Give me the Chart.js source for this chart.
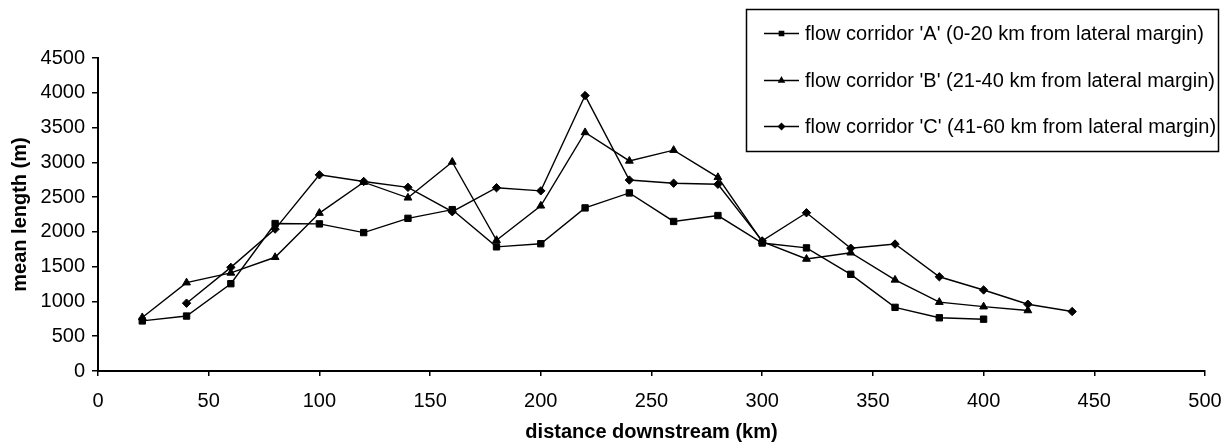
<!DOCTYPE html>
<html>
<head>
<meta charset="utf-8">
<script src="https://cdn.jsdelivr.net/npm/chart.js@4.4.1/dist/chart.umd.min.js"></script>
<style>
  html, body { margin: 0; padding: 0; background: #fff; }
  #wrap { width: 1221px; height: 442px; position: relative; }
</style>
</head>
<body>
<div id="wrap"><canvas id="c" width="1221" height="442"></canvas></div>
<script>
// distance downstream (km)
const distances = [20, 40, 60, 80, 100, 120, 140, 160, 180, 200, 220, 240, 260, 280, 300, 320, 340, 360, 380, 400, 420, 440];
// mean length (m), null where no data
const corridorA = [720, 790, 1255, 2120, 2115, 1990, 2195, 2320, 1785, 1830, 2345, 2560, 2150, 2235, 1840, 1770, 1390, 915, 765, 745, null, null];
const corridorB = [770, 1270, 1410, 1635, 2270, 2715, 2490, 3005, 1880, 2375, 3430, 3020, 3175, 2785, 1860, 1610, 1700, 1310, 990, 925, 870, null];
const corridorC = [null, 975, 1490, 2040, 2820, 2725, 2640, 2290, 2635, 2590, 3960, 2745, 2700, 2685, 1870, 2275, 1765, 1825, 1355, 1165, 960, 855];
const seriesLabels = [
  "flow corridor 'A' (0-20 km from lateral margin)",
  "flow corridor 'B' (21-40 km from lateral margin)",
  "flow corridor 'C' (41-60 km from lateral margin)"
];
const xTitle = 'distance downstream (km)';
const yTitle = 'mean length (m)';

function toPoints(vals) {
  const pts = [];
  vals.forEach((v, i) => { if (v !== null) pts.push({x: distances[i], y: v}); });
  return pts;
}

const styles = [
  {pointStyle: 'rect', pointRadius: 4.5},
  {pointStyle: 'triangle', pointRadius: 4.5},
  {pointStyle: 'rectRot', pointRadius: 4.2}
];
const seriesData = [corridorA, corridorB, corridorC];
const FONT = '"Liberation Sans", Arial, sans-serif';

const datasets = seriesData.map((vals, i) => ({
  label: seriesLabels[i],
  data: toPoints(vals),
  borderColor: '#000',
  backgroundColor: '#000',
  borderWidth: 1.4,
  pointStyle: styles[i].pointStyle,
  pointRadius: styles[i].pointRadius,
  pointBorderWidth: 1,
  pointBackgroundColor: '#000',
  pointBorderColor: '#000',
  tension: 0,
  fill: false
}));

const boxedLegend = {
  id: 'boxedLegend',
  afterDraw(chart) {
    const ctx = chart.ctx;
    ctx.save();
    ctx.lineWidth = 1.5;
    ctx.strokeStyle = '#000';
    ctx.strokeRect(746.5, 9.5, 472, 142);
    const rows = [33.5, 80.5, 126.5];
    ctx.font = '20px ' + FONT;
    ctx.textBaseline = 'middle';
    ctx.textAlign = 'left';
    chart.data.datasets.forEach((ds, i) => {
      const y = rows[i];
      ctx.beginPath();
      ctx.lineWidth = 1.4;
      ctx.strokeStyle = '#000';
      ctx.moveTo(764, y);
      ctx.lineTo(799, y);
      ctx.stroke();
      ctx.fillStyle = '#000';
      Chart.helpers.drawPoint(ctx, {pointStyle: ds.pointStyle, radius: 3, rotation: 0, borderWidth: 1}, 781.5, y);
      ctx.fillStyle = '#000';
      ctx.fillText(ds.label, 805, y + 1);
    });
    ctx.restore();
  }
};

new Chart(document.getElementById('c'), {
  type: 'line',
  data: { datasets },
  options: {
    responsive: false,
    animation: false,
    devicePixelRatio: 1,
    layout: { padding: { left: 0, right: 16, top: 58, bottom: 0 } },
    plugins: {
      legend: { display: false },
      tooltip: { enabled: false }
    },
    elements: { line: { borderJoinStyle: 'miter' } },
    scales: {
      x: {
        type: 'linear',
        min: 0, max: 500,
        ticks: {
          stepSize: 50,
          color: '#000',
          padding: 13,
          maxRotation: 0,
          callback: (v) => String(v),
          font: { family: FONT, size: 20 }
        },
        grid: { display: true, drawOnChartArea: false, drawTicks: true, tickLength: 5, color: '#000', lineWidth: 1.5 },
        border: { display: true, color: '#000', width: 2 },
        title: {
          display: true, text: xTitle, color: '#000',
          font: { family: FONT, size: 20, weight: 'bold', lineHeight: 1 },
          padding: { top: 0, bottom: 0 }
        },
        afterFit(scale) { scale.height = 71; scale.paddingLeft = 0; scale.paddingRight = 0; }
      },
      y: {
        min: 0, max: 4500,
        ticks: {
          stepSize: 500,
          color: '#000',
          padding: 7,
          callback: (v) => String(v),
          font: { family: FONT, size: 20 }
        },
        grid: { display: true, drawOnChartArea: false, drawTicks: true, tickLength: 6, color: '#000', lineWidth: 1.5 },
        border: { display: true, color: '#000', width: 2 },
        title: {
          display: true, text: yTitle, color: '#000',
          font: { family: FONT, size: 20, weight: 'bold', lineHeight: 1 },
          padding: { top: 10, bottom: 0 }
        },
        afterFit(scale) { scale.width = 98; }
      }
    }
  },
  plugins: [boxedLegend]
});
</script>
</body>
</html>
